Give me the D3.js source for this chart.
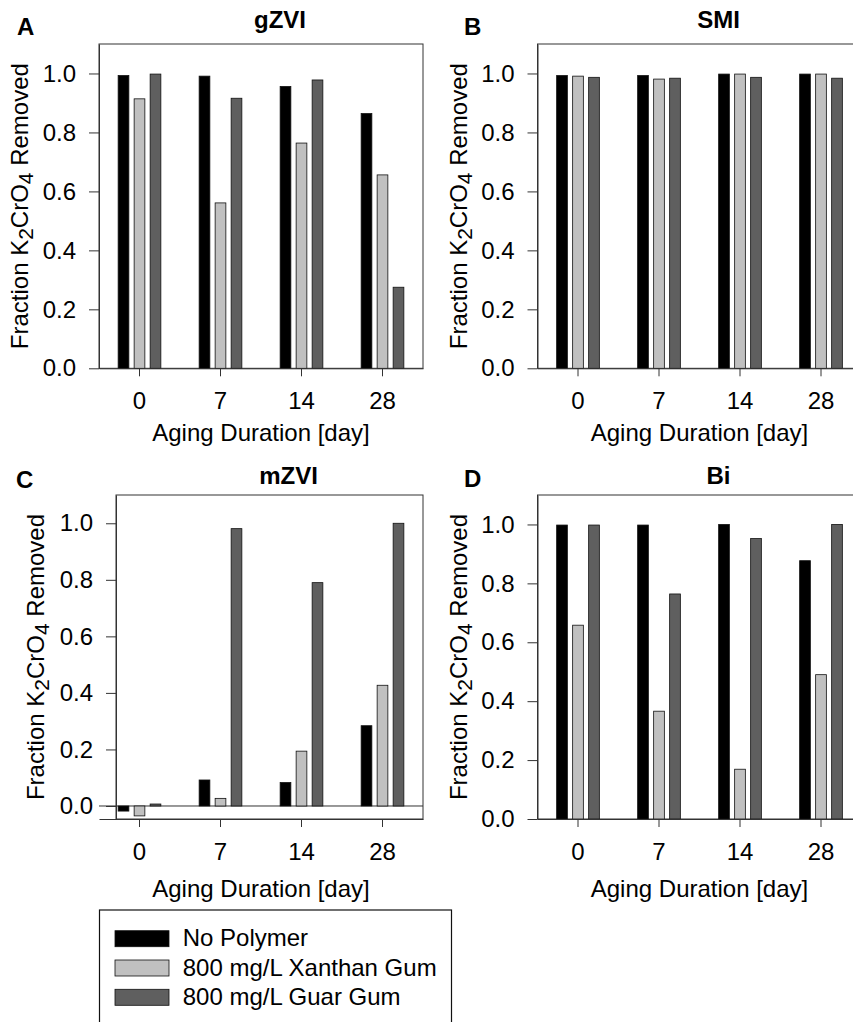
<!DOCTYPE html>
<html>
<head>
<meta charset="utf-8">
<script src="https://cdn.jsdelivr.net/npm/d3@7"></script>
<style>
  body { margin: 0; background: #fff; }
  svg { font-family: "Liberation Sans", Arial, sans-serif; }
  .axis text { font-size: 24px; fill: #000; }
  .axis path, .axis line { stroke: #333; stroke-width: 1; }
</style>
</head>
<body>
<div id="chart"></div>
<script>
// categories / series
var days = ["0", "7", "14", "28"];
var seriesNames = ["No Polymer", "800 mg/L Xanthan Gum", "800 mg/L Guar Gum"];
var seriesColors = ["#000000", "#c0c0c0", "#5f5f5f"];
var yTicks = [0, 0.2, 0.4, 0.6, 0.8, 1.0];

// values per panel, one row per series (No Polymer, Xanthan, Guar)
var gzviValues = [
  [0.993, 0.991, 0.956, 0.864],
  [0.914, 0.561, 0.764, 0.656],
  [0.998, 0.916, 0.978, 0.275]
];
var smiValues = [
  [0.993, 0.993, 0.998, 0.998],
  [0.991, 0.981, 0.998, 0.998],
  [0.987, 0.984, 0.987, 0.984]
];
var mzviValues = [
  [-0.018, 0.092, 0.083, 0.284],
  [-0.035, 0.027, 0.194, 0.427],
  [0.007, 0.981, 0.790, 1.000]
];
var biValues = [
  [0.998, 0.998, 1.000, 0.877],
  [0.658, 0.366, 0.169, 0.490],
  [0.998, 0.764, 0.952, 1.000]
];

var width = 853, height = 1022;

var svg = d3.select("#chart").append("svg")
    .attr("width", width)
    .attr("height", height);

// panel layout
var panels = [
  { letter: "A", title: "gZVI", values: gzviValues, yMin: 0,
    x0: 99, x1: 423, frameLeft: 99, top: 44, bottom: 368.3,
    letterX: 17, letterY: 35, titleY: 28, yTitleX: 28, xTitleY: 441 },
  { letter: "B", title: "SMI", values: smiValues, yMin: 0,
    x0: 537.5, x1: 861.5, frameLeft: 537.5, top: 44, bottom: 368.3,
    letterX: 464, letterY: 35, titleY: 28, yTitleX: 467, xTitleY: 441 },
  { letter: "C", title: "mZVI", values: mzviValues, yMin: -0.046,
    x0: 99, x1: 423, frameLeft: 116, top: 495, bottom: 819,
    letterX: 16, letterY: 488, titleY: 484, yTitleX: 44, xTitleY: 897 },
  { letter: "D", title: "Bi", values: biValues, yMin: 0,
    x0: 537.5, x1: 861.5, frameLeft: 537.5, top: 495, bottom: 819,
    letterX: 464, letterY: 487, titleY: 484, yTitleX: 467, xTitleY: 897 }
];

panels.forEach(function(p) { drawPanel(p); });

function drawPanel(p) {
  var x = d3.scaleBand().domain(days).range([p.x0, p.x1]);
  var xs = d3.scaleBand().domain(seriesNames).range([-24, 24])
      .paddingInner(0.33).paddingOuter(0.165);
  var y = d3.scaleLinear().domain([p.yMin, 1.1]).range([p.bottom, p.top]);

  var g = svg.append("g");

  // frame (top / right / left)
  g.append("rect")
    .attr("x", p.frameLeft)
    .attr("y", p.top)
    .attr("width", p.x1 - p.frameLeft)
    .attr("height", p.bottom - p.top)
    .attr("fill", "none")
    .attr("stroke", "#333")
    .attr("stroke-width", 1);

  // zero line when the axis goes below zero
  if (p.yMin < 0) {
    g.append("line")
      .attr("x1", p.x0).attr("x2", p.x1)
      .attr("y1", y(0)).attr("y2", y(0))
      .attr("stroke", "#333");
  }

  // bars
  var rows = [];
  p.values.forEach(function(row, si) {
    row.forEach(function(v, di) {
      rows.push({ day: days[di], series: seriesNames[si], color: seriesColors[si], v: v });
    });
  });

  g.append("g")
    .selectAll("rect").data(rows).enter().append("rect")
    .attr("x", function(d) { return x(d.day) + x.bandwidth() / 2 + xs(d.series); })
    .attr("width", xs.bandwidth())
    .attr("y", function(d) { return Math.min(y(d.v), y(0)); })
    .attr("height", function(d) { return Math.abs(y(d.v) - y(0)); })
    .attr("fill", function(d) { return d.color; })
    .attr("stroke", "#111")
    .attr("stroke-width", 0.8);

  // x axis
  g.append("g")
    .attr("class", "axis")
    .attr("transform", "translate(0," + p.bottom + ")")
    .call(d3.axisBottom(x).tickSize(8).tickSizeOuter(0).tickPadding(16));

  // y axis
  g.append("g")
    .attr("class", "axis")
    .attr("transform", "translate(" + p.frameLeft + ",0)")
    .call(d3.axisLeft(y).tickValues(yTicks).tickSize(10).tickSizeOuter(0)
      .tickPadding(13).tickFormat(d3.format(".1f")));

  // titles
  g.append("text")
    .attr("x", p.letterX).attr("y", p.letterY)
    .attr("font-size", 24).attr("font-weight", "bold")
    .text(p.letter);

  g.append("text")
    .attr("x", (p.frameLeft + p.x1) / 2 + 19).attr("y", p.titleY)
    .attr("text-anchor", "middle")
    .attr("font-size", 24).attr("font-weight", "bold")
    .text(p.title);

  g.append("text")
    .attr("x", (p.x0 + p.x1) / 2).attr("y", p.xTitleY)
    .attr("text-anchor", "middle")
    .attr("font-size", 24)
    .text("Aging Duration [day]");

  var yt = g.append("text")
    .attr("transform", "translate(" + p.yTitleX + "," + (p.top + p.bottom) / 2 + ") rotate(-90)")
    .attr("text-anchor", "middle")
    .attr("font-size", 24);
  yt.append("tspan").text("Fraction K");
  yt.append("tspan").attr("dy", 5).attr("font-size", 21).text("2");
  yt.append("tspan").attr("dy", -5).text("CrO");
  yt.append("tspan").attr("dy", 5).attr("font-size", 21).text("4");
  yt.append("tspan").attr("dy", -5).text(" Removed");
}

// legend
var legend = svg.append("g");
legend.append("rect")
  .attr("x", 99.5).attr("y", 910)
  .attr("width", 352).attr("height", 140)
  .attr("fill", "#fff")
  .attr("stroke", "#111")
  .attr("stroke-width", 1.2);

var item = legend.selectAll(".item").data(seriesNames).enter().append("g")
  .attr("transform", function(d, i) { return "translate(115," + (930.7 + i * 29.3) + ")"; });

item.append("rect")
  .attr("width", 54).attr("height", 16)
  .attr("fill", function(d, i) { return seriesColors[i]; })
  .attr("stroke", "#111")
  .attr("stroke-width", 0.8);

item.append("text")
  .attr("x", 67.7).attr("y", 15.5)
  .attr("font-size", 24)
  .text(function(d) { return d; });
</script>
</body>
</html>
